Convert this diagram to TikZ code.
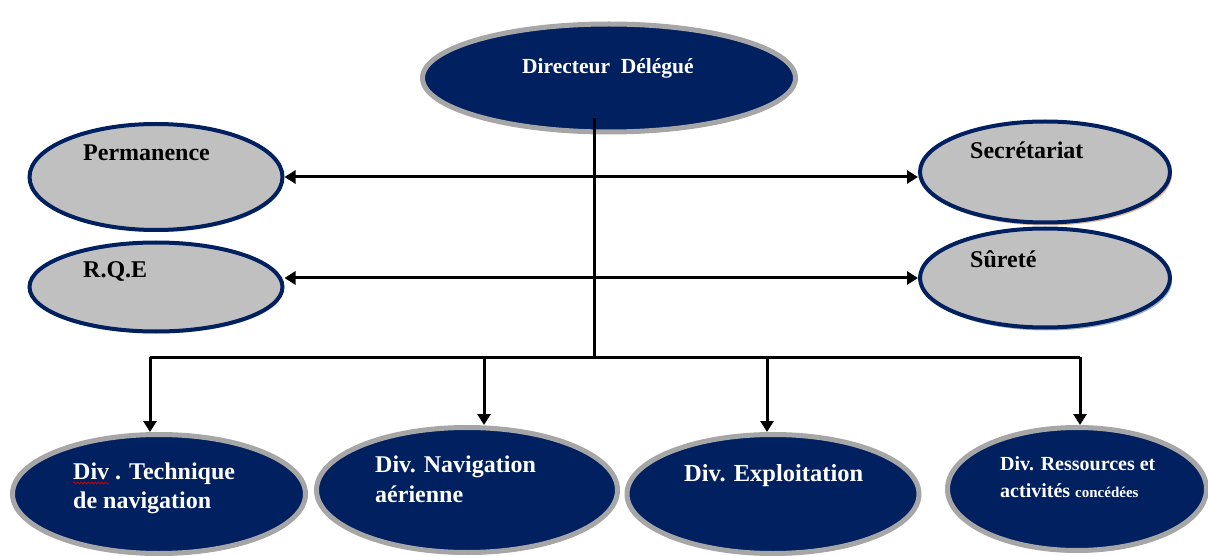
\documentclass[tikz,border=0pt]{standalone}
\usepackage{fontspec}
\setmainfont{Liberation Serif}
\usetikzlibrary{shapes.geometric,arrows.meta,shadows,decorations.pathmorphing}
\definecolor{navy}{HTML}{002060}
\definecolor{lgray}{HTML}{C0C0C0}
\definecolor{rimgray}{HTML}{A6A6A6}
\definecolor{shblue}{HTML}{8FA3B8}
\definecolor{shpeach}{HTML}{D9A882}
\definecolor{shred}{HTML}{B58A8A}
\begin{document}
\begin{tikzpicture}[x=1pt,y=-1pt,
  darkell/.style={ellipse, fill=navy, draw=rimgray, line width=5pt, inner sep=0pt,
     drop shadow={shadow xshift=1pt, shadow yshift=-2pt, fill=shred, opacity=0.7}},
  grayell/.style={ellipse, fill=lgray, draw=navy, line width=4pt, inner sep=0pt},
  wtxt/.style={text=white, font=\bfseries\fontsize{24}{26}\selectfont, anchor=base west, inner sep=0pt},
  btxt/.style={text=black, font=\bfseries\fontsize{24}{26}\selectfont, anchor=base west, inner sep=0pt},
  conn/.style={line width=3pt, black},
  tip/.style={arrows={-Triangle[length=11pt,width=13pt]}},
  tips/.style={arrows={Triangle[length=11pt,width=13pt]-Triangle[length=11pt,width=13pt]}}]
\useasboundingbox (0,0) rectangle (1208,556);
% ellipses
\node[darkell, minimum width=373pt, minimum height=108pt] (dir) at (609,78) {};
\node[grayell, minimum width=253pt, minimum height=106pt,
  drop shadow={shadow xshift=1pt, shadow yshift=-2pt, fill=shblue, opacity=0.7}] (perm) at (156,177) {};
\node[grayell, minimum width=253pt, minimum height=89pt,
  drop shadow={shadow xshift=1pt, shadow yshift=-2pt, fill=shblue, opacity=0.7}] (rqe) at (156,287) {};
\node[grayell, minimum width=250pt, minimum height=101pt,
  drop shadow={shadow xshift=2pt, shadow yshift=-3pt, fill=shpeach, opacity=0.8}] (secr) at (1045,172) {};
\node[grayell, minimum width=250pt, minimum height=99pt,
  drop shadow={shadow xshift=2pt, shadow yshift=-3pt, fill=shblue, opacity=0.8}] (sur) at (1045,278) {};
\node[darkell, minimum width=293pt, minimum height=119pt] (tech) at (159,494) {};
\node[darkell, minimum width=301pt, minimum height=125pt] (nav) at (467,490) {};
\node[darkell, minimum width=292pt, minimum height=119pt] (expl) at (773,494) {};
\node[darkell, minimum width=259pt, minimum height=123pt] (ress) at (1077,489) {};
% texts
\node[wtxt, font=\bfseries\fontsize{21.5}{23}\selectfont] (dirT) at (522,74) {Directeur\ \ Délégué};
\node[btxt] (permT) at (83,161) {Permanence};
\node[btxt] (rqeT) at (83,278) {R.Q.E};
\node[btxt] (secrT) at (970,159) {Secrétariat};
\node[btxt] (surT) at (970,268) {Sûreté};
\node[wtxt] (techT1) at (73,479) {Div . Technique};
\node[wtxt] (techT2) at (73,508) {de navigation};
\node[wtxt] (navT1) at (375,472) {Div. Navigation};
\node[wtxt] (navT2) at (375,502) {aérienne};
\node[wtxt, font=\bfseries\fontsize{24.5}{26}\selectfont] (explT) at (684,481) {Div. Exploitation};
\node[wtxt, font=\bfseries\fontsize{20}{22}\selectfont] (ressT1) at (1000,470) {Div. Ressources et};
\node[wtxt, font=\bfseries\fontsize{20}{22}\selectfont] (ressT2) at (1000,497) {activités {\fontsize{15}{17}\selectfont concédées}};
\draw[red!80!black, line width=0.8pt, decorate, decoration={snake, amplitude=1pt, segment length=3.5pt}]
  ([yshift=-4pt]techT1.base west) -- ++(36,0);
% connectors
\coordinate (top) at (594,118);
\coordinate (bus) at (594,357);
\coordinate (b1) at (150,357);
\coordinate (b2) at (484,357);
\coordinate (b3) at (767,357);
\coordinate (b4) at (1080,357);
\draw[conn] (top) -- (bus);
\draw[conn] (b1) -- (b4);
\draw[conn, tips] (perm.east) -- (perm.east -| secr.west);
\draw[conn, tips] (rqe.east |- sur.west) -- (sur.west);
\draw[conn, tip] (b1) -- (b1 |- tech.north);
\draw[conn, tip] (b2) -- (b2 |- nav.north);
\draw[conn, tip] (b3) -- (b3 |- expl.north);
\draw[conn, tip] (b4) -- (b4 |- ress.north);
\end{tikzpicture}
\end{document}
